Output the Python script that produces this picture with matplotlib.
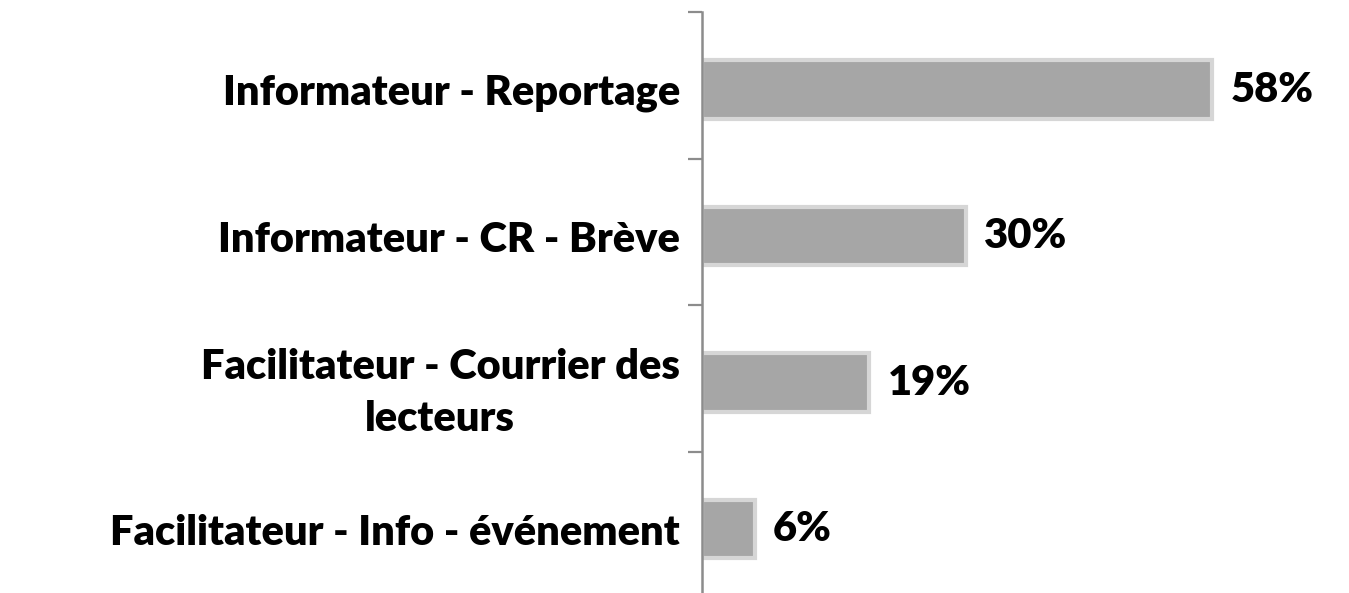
import matplotlib
matplotlib.use("Agg")
import matplotlib.pyplot as plt
import numpy as np

plt.rcParams['font.family'] = ['Lato', 'DejaVu Sans']

# data, top to bottom
categories = [
    "Informateur - Reportage",
    "Informateur - CR - Brève",
    "Facilitateur - Courrier des\nlecteurs",
    "Facilitateur - Info - événement",
]
values = [58, 30, 19, 6]
value_labels = ["58%", "30%", "19%", "6%"]

W, H = 1349, 593
fig = plt.figure(figsize=(W / 100, H / 100), dpi=100)
# axes: spine at x=702px, top at y=12px, category step ~146.5px
ax = fig.add_axes([702 / W, (H - 598) / H, (W - 702) / W, 586 / H])

pos = np.arange(len(categories)) + 0.03
ax.barh(pos, values, height=0.40, color='#a6a6a6',
        edgecolor='#d6d6d6', linewidth=3)

for p, v, lab in zip(pos, values, value_labels):
    ax.text(v + 2.1, p, lab, va='center', ha='left',
            fontsize=30, fontweight='heavy', color='black')

ax.set_xlim(0, 73.6)
ax.set_ylim(len(categories) - 0.5, -0.5)

ax.set_yticks(pos)
ax.set_yticklabels(categories, fontsize=30, fontweight='heavy',
                   multialignment='center', linespacing=1.45)
ax.tick_params(axis='y', which='major', length=0, pad=16)
ax.set_yticks(np.arange(len(categories) + 1) - 0.5, minor=True)
ax.tick_params(axis='y', which='minor', length=10, width=1.6,
               color='#8c8c8c', direction='out')

ax.set_xticks([])
for s in ['top', 'right', 'bottom']:
    ax.spines[s].set_visible(False)
ax.spines['left'].set_color('#8c8c8c')
ax.spines['left'].set_linewidth(1.8)

fig.savefig('out.png', dpi=100)
